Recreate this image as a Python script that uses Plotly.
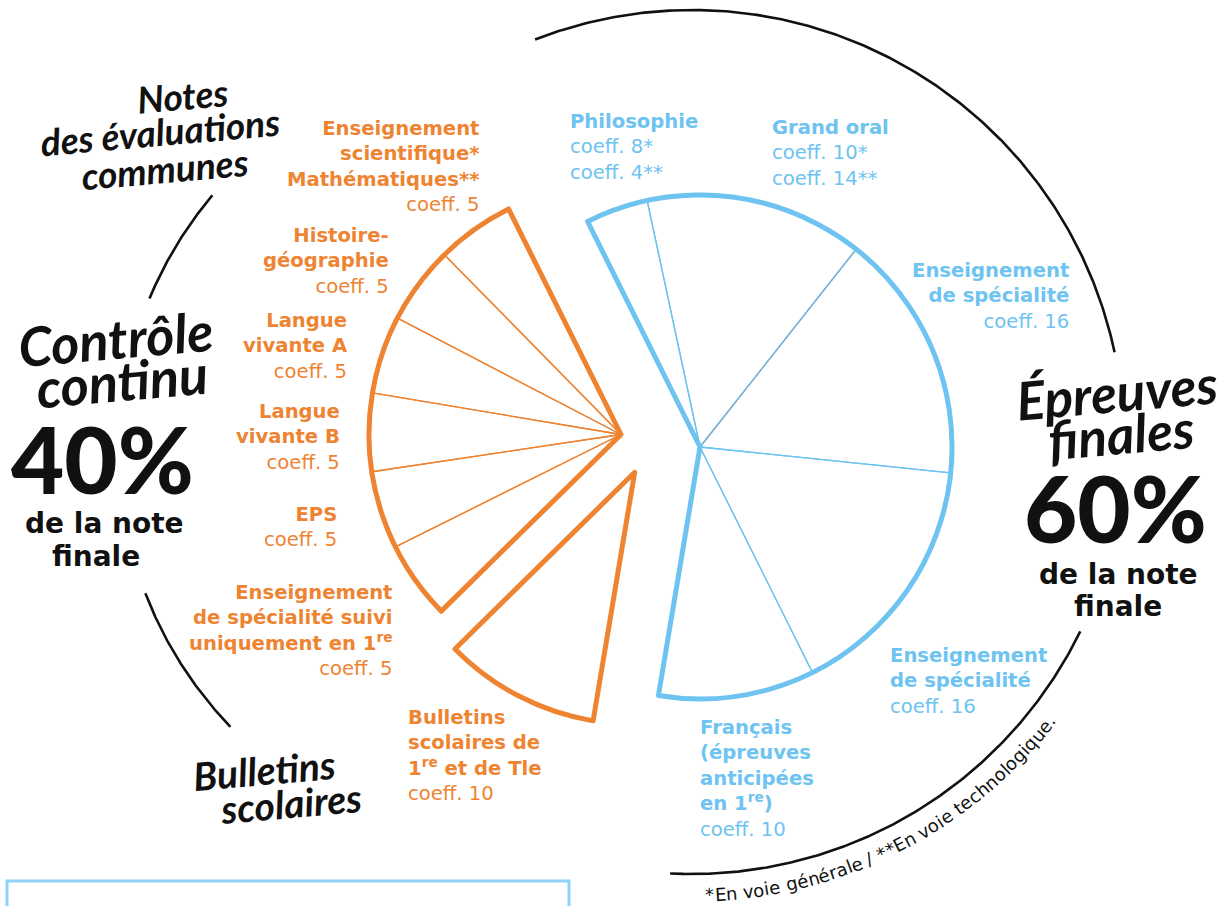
import numpy as np
import plotly.graph_objects as go

W, H = 1227, 906

# ---------------- data ----------------
share_labels = ["Contrôle continu", "Épreuves finales"]
share_values = [40, 60]

blue_categories = ["Philosophie", "Grand oral", "Enseignement de spécialité (1)",
                   "Enseignement de spécialité (2)", "Français (épreuves anticipées en 1re)"]
blue_coeff_generale = [8, 10, 16, 16, 10]
blue_coeff_techno = [4, 14, 16, 16, 10]          # proportions used by the drawing

bulletin_categories = ["Bulletins scolaires de 1re et de Tle"]
bulletin_coeff = [10]

orange_categories = ["Enseignement de spécialité suivi uniquement en 1re", "EPS",
                     "Langue vivante B", "Langue vivante A", "Histoire-géographie",
                     "Enseignement scientifique / Mathématiques"]
orange_coeff = [5, 5, 5, 5, 5, 5]

# ---------------- styles ----------------
ORANGE = "#EE8432"
BLUE = "#6EC3F0"
GREYBLUE = "#86AFC9"
CLEAR = "rgba(0,0,0,0)"
LABEL_FONT = "DejaVu Sans"
HAND_FONT = "Lato"

all_labels = blue_categories + bulletin_categories + orange_categories
all_values = blue_coeff_techno + bulletin_coeff + orange_coeff
groups = ["blue"] * len(blue_categories) + ["bull"] * len(bulletin_categories) + ["orange"] * len(orange_categories)
group_names = ["blue", "bull", "orange"]
group_sums = [sum(v for v, g in zip(all_values, groups) if g == gn) for gn in group_names]

START_ANGLE = 116.5            # math degrees, where the first slice starts
ROT = 90 - START_ANGLE         # plotly rotation (clockwise from 12 o'clock)
R = 252
centers = {"blue": (700, 447), "bull": (634.7, 472.3), "orange": (621, 434.5)}
colors = {"blue": BLUE, "bull": ORANGE, "orange": ORANGE}


def dom(cx, cy, r):
    return dict(x=[(cx - r) / W, (cx + r) / W], y=[1 - (cy + r) / H, 1 - (cy - r) / H])


def pie(labels, values, cx, cy, line_colors, line_widths):
    return go.Pie(
        labels=labels, values=values, sort=False, direction="clockwise",
        rotation=ROT, textinfo="none", textposition="none", hoverinfo="skip",
        showlegend=False, domain=dom(cx, cy, R),
        marker=dict(colors=[CLEAR] * len(values),
                    line=dict(color=line_colors, width=line_widths)))


fig = go.Figure()

for gn in group_names:
    cx, cy = centers[gn]
    # thin inner dividers
    fig.add_trace(pie(all_labels, all_values, cx, cy,
                      [colors[gn] if g == gn else CLEAR for g in groups],
                      [1.3 if g == gn else 0 for g in groups]))
    if gn == "blue":
        # the divider between "Grand oral" and the first specialty is greyer
        first_two = sum(blue_coeff_techno[:2])
        fig.add_trace(pie(["a", "b"], [first_two, sum(all_values) - first_two], cx, cy,
                          [GREYBLUE, CLEAR], [1.3, 0]))
    # thick outline of the group
    fig.add_trace(pie(group_names, group_sums, cx, cy,
                      [colors[gn] if g == gn else CLEAR for g in group_names],
                      [5 if g == gn else 0 for g in group_names]))


# ---------------- decorative black arcs ----------------
def arc(cx, cy, r, a0, a1, n=240):
    a = np.radians(np.linspace(a0, a1, n))
    return cx + r * np.cos(a), cy - r * np.sin(a)


arcs = [
    (692, 442, 432, 111.3, 12.0),
    (692, 442, 432, -26.0, -92.9),
    (516, 451, 397, 139.9, 157.4),
    (516, 451, 397, 201.0, 224.0),
]
for cx, cy, r, a0, a1 in arcs:
    x, y = arc(cx, cy, r, a0, a1)
    fig.add_trace(go.Scatter(x=x, y=y, mode="lines", line=dict(color="#111111", width=2.6),
                             hoverinfo="skip", showlegend=False))

annotations = []


def ann(text, x, y, size, color="#111111", xanchor="center", align="center",
        family=LABEL_FONT, weight="normal", style="normal", angle=0):
    annotations.append(dict(
        text=text, x=x, y=y, xref="x", yref="y", showarrow=False,
        xanchor=xanchor, yanchor="middle", align=align, textangle=angle,
        font=dict(family=family, size=size, color=color, weight=weight, style=style)))


LS = 19.6
# orange labels
ann("<b>Enseignement<br>scientifique*<br>Mathématiques**</b><br>coeff. %d" % orange_coeff[5], 481, 166, LS, ORANGE, "right", "right")
ann("<b>Histoire-<br>géographie</b><br>coeff. %d" % orange_coeff[4], 391, 261, LS, ORANGE, "right", "right")
ann("<b>Langue<br>vivante A</b><br>coeff. %d" % orange_coeff[3], 350, 346, LS, ORANGE, "right", "right")
ann("<b>Langue<br>vivante B</b><br>coeff. %d" % orange_coeff[2], 342, 437, LS, ORANGE, "right", "right")
ann("<b>EPS</b><br>coeff. %d" % orange_coeff[1], 339, 527, LS, ORANGE, "right", "right")
ann("<b>Enseignement<br>de spécialité suivi<br>uniquement en 1<sup>re</sup></b><br>coeff. %d" % orange_coeff[0],
    395, 630, LS, ORANGE, "right", "right")
ann("<b>Bulletins<br>scolaires de<br>1<sup>re</sup> et de Tle</b><br>coeff. %d" % bulletin_coeff[0],
    406, 755, LS, ORANGE, "left", "left")

# blue labels
ann("<b>Philosophie</b><br>coeff. %d*<br>coeff. %d**" % (blue_coeff_generale[0], blue_coeff_techno[0]),
    568, 147, LS, BLUE, "left", "left")
ann("<b>Grand oral</b><br>coeff. %d*<br>coeff. %d**" % (blue_coeff_generale[1], blue_coeff_techno[1]),
    770, 153, LS, BLUE, "left", "left")
ann("<b>Enseignement<br>de spécialité</b><br>coeff. %d" % blue_coeff_techno[2], 1071, 296, LS, BLUE, "right", "right")
ann("<b>Enseignement<br>de spécialité</b><br>coeff. %d" % blue_coeff_techno[3], 888, 681, LS, BLUE, "left", "left")
ann("<b>Français<br>(épreuves<br>anticipées<br>en 1<sup>re</sup>)</b><br>coeff. %d" % blue_coeff_techno[4],
    698, 778, LS, BLUE, "left", "left")

# handwritten headings
HW = dict(family=HAND_FONT, weight="bold", style="italic", angle=-5)
ann("Notes", 182, 95, 37, **HW)
ann("des évaluations", 160, 131, 37, **HW)
ann("communes", 165, 168, 37, **HW)
ann("Contrôle", 115, 338, 54, **HW)
ann("continu", 122, 380, 54, **HW)
ann("Bulletins", 264, 770, 39, **HW)
ann("scolaires", 291, 803, 39, **HW)
ann("Épreuves", 1117, 391, 53, **HW)
ann("finales", 1121, 433, 53, **HW)

# big percentages
ann("%d%%" % share_values[0], 102, 458, 92, family=HAND_FONT, weight=900)
ann("<b>de la note</b>", 104, 523, 28)
ann("<b>finale</b>", 96, 556, 28)
ann("%d%%" % share_values[1], 1115, 507, 92, family=HAND_FONT, weight=900)
ann("<b>de la note</b>", 1118, 574, 28)
ann("<b>finale</b>", 1118, 606, 28)

# curved footnote
fn_text = "*En voie générale / **En voie technologique."
cw = {'*': 0.5, 'E': 0.632, 'n': 0.634, ' ': 0.318, 'v': 0.592, 'o': 0.612, 'i': 0.278,
      'e': 0.615, 'g': 0.635, 'é': 0.615, 'r': 0.411, 'a': 0.613, 'l': 0.278, '/': 0.337,
      't': 0.392, 'c': 0.55, 'h': 0.634, 'q': 0.635, 'u': 0.634, '.': 0.318}
FS = 18
RT = 453
CX, CY = 692, 442
a_start = -88.3
pos = 0.0
for ch in fn_text:
    w = cw.get(ch, 0.6) * FS
    if ch != " ":
        a = a_start + np.degrees((pos + w / 2) / RT)
        ar = np.radians(a)
        ann(ch, CX + RT * np.cos(ar), CY - RT * np.sin(ar), FS, "#111111", angle=-(a + 90))
    pos += w

shapes = [dict(type="rect", xref="x", yref="y", x0=7, x1=569, y0=881, y1=940,
               line=dict(color="#8ED3F6", width=3), fillcolor=CLEAR)]

fig.update_layout(
    width=W, height=H, margin=dict(l=0, r=0, t=0, b=0),
    paper_bgcolor="white", plot_bgcolor="white",
    xaxis=dict(range=[0, W], visible=False, fixedrange=True, domain=[0, 1]),
    yaxis=dict(range=[H, 0], visible=False, fixedrange=True, domain=[0, 1]),
    annotations=annotations, shapes=shapes, showlegend=False,
)

fig.write_html("out.html", config={"displayModeBar": False},
               post_script="document.body.style.margin='0';document.body.style.overflow='hidden';")
